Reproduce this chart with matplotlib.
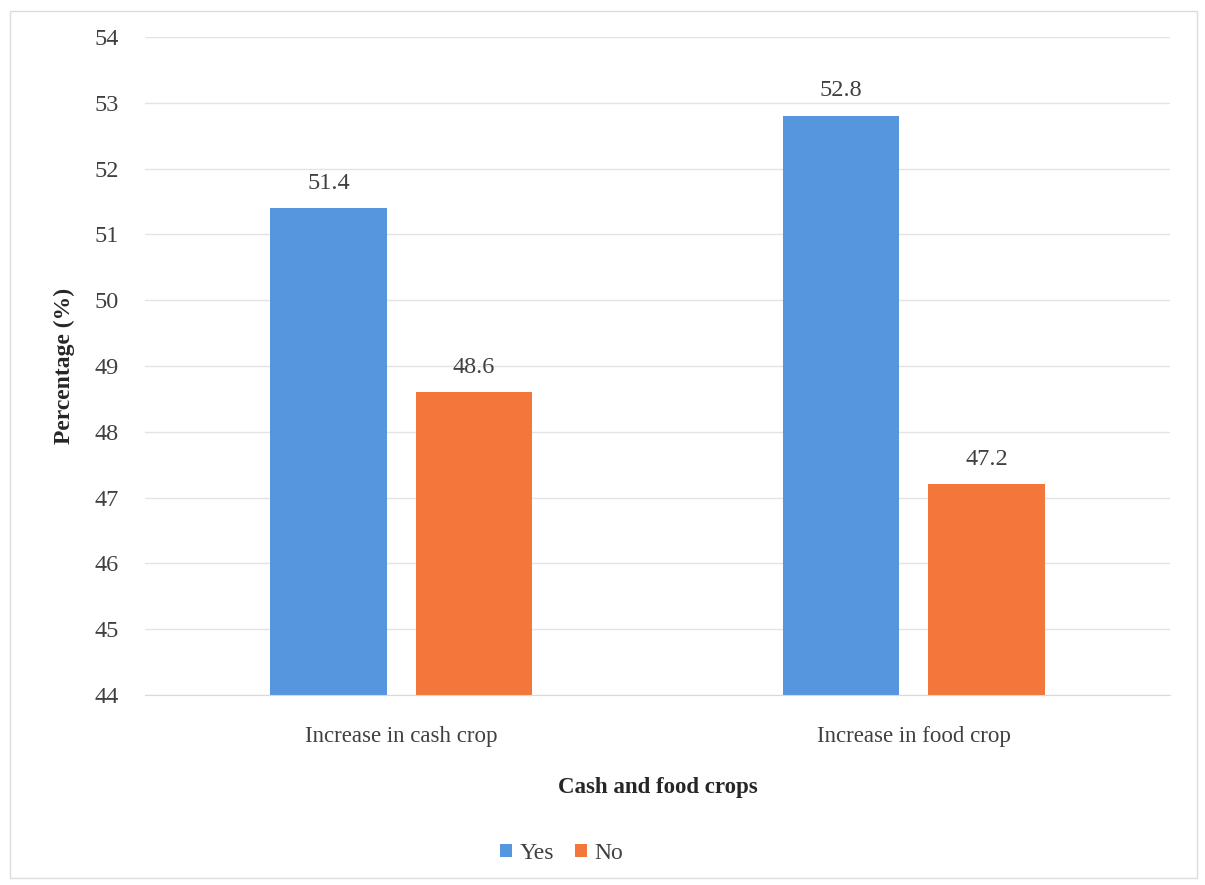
import matplotlib.pyplot as plt
import numpy as np
from matplotlib.patches import Rectangle

categories = ["Increase in cash crop", "Increase in food crop"]
yes_vals = [51.4, 52.8]
no_vals = [48.6, 47.2]
series_names = ["Yes", "No"]
y_ticks = [44, 45, 46, 47, 48, 49, 50, 51, 52, 53, 54]

plt.rcParams['font.family'] = ['Liberation Serif', 'DejaVu Serif']

def main():
    fig = plt.figure(figsize=(12.05, 8.85), dpi=100)
    ax = fig.add_axes([0.1203, 0.2147, 0.8507, 0.7435])

    x = np.arange(len(categories))
    w = 0.228
    off = 0.142
    blue = '#5696de'
    orange = '#f3773b'
    b1 = ax.bar(x - off, [v - 44 for v in yes_vals], w, bottom=44, color=blue, label=series_names[0])
    b2 = ax.bar(x + off, [v - 44 for v in no_vals], w, bottom=44, color=orange, label=series_names[1])

    for i in range(len(categories)):
        ax.text(x[i] - off, yes_vals[i] + 0.22, "%.1f" % yes_vals[i], ha='center', va='bottom',
                fontsize=17.5, color='#404040')
        ax.text(x[i] + off, no_vals[i] + 0.22, "%.1f" % no_vals[i], ha='center', va='bottom',
                fontsize=17.5, color='#404040')

    ax.set_xlim(-0.5, 1.5)
    ax.set_ylim(44, 54)
    ax.set_yticks(y_ticks)
    ax.set_xticks(x)
    ax.set_xticklabels(categories)
    ax.tick_params(axis='y', length=0, labelsize=17.5, labelcolor='#404040', pad=19)
    ax.tick_params(axis='x', length=0, labelsize=16.5, labelcolor='#404040', pad=22)
    ax.yaxis.grid(True, color='#e4e4e4', linewidth=1)
    ax.set_axisbelow(True)
    for s in ['top', 'right', 'left']:
        ax.spines[s].set_visible(False)
    ax.spines['bottom'].set_color('#d9d9d9')

    ax.set_ylabel("Percentage (%)", fontsize=17, fontweight='bold', color='#262626', labelpad=14)
    ax.set_xlabel("Cash and food crops", fontsize=16.5, fontweight='bold', color='#262626', labelpad=22)

    fig.legend(handles=[b1, b2], loc='center', bbox_to_anchor=(0.466, 0.036), ncol=2,
               frameon=False, fontsize=17, handlelength=0.5, handleheight=0.5,
               handletextpad=0.3, columnspacing=0.9, labelcolor='#404040')

    fig.patches.append(Rectangle((0.008, 0.008), 0.985, 0.98, transform=fig.transFigure,
                                 fill=False, edgecolor='#dcdcdc', linewidth=1))

    fig.savefig("out.png", dpi=100)


if __name__ == '__main__':
    main()
